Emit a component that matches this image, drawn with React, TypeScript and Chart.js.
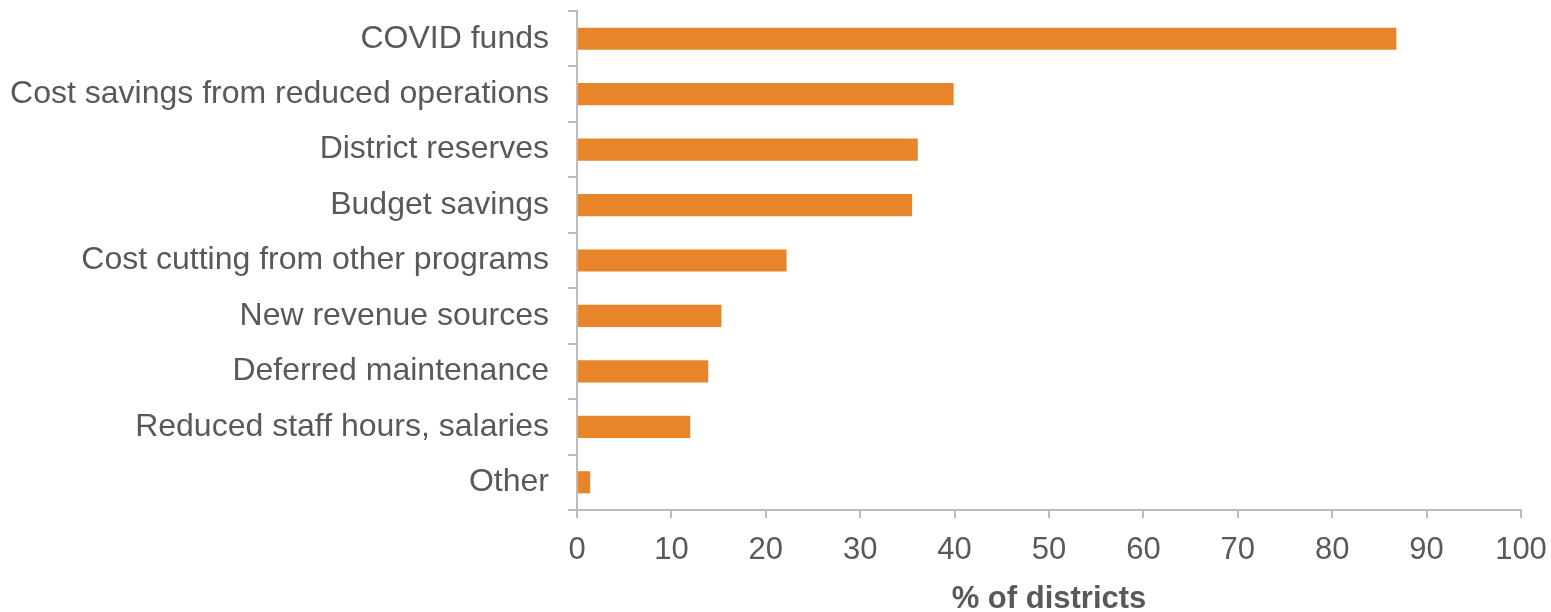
import React, { useEffect, useRef } from "react";
import { Chart, registerables } from "chart.js";

Chart.register(...registerables);

const categories = [
  "COVID funds",
  "Cost savings from reduced operations",
  "District reserves",
  "Budget savings",
  "Cost cutting from other programs",
  "New revenue sources",
  "Deferred maintenance",
  "Reduced staff hours, salaries",
  "Other",
];
const values = [86.8, 39.9, 36.1, 35.5, 22.2, 15.3, 13.9, 12.0, 1.4];
const axisTitle = "% of districts";

const ORANGE = "#E8852A";
const TEXT = "#595959";
const AXIS = "#BCBCBC";
const FONT = "'Liberation Sans', Arial, sans-serif";

export default function App() {
  const ref = useRef<HTMLCanvasElement | null>(null);
  useEffect(() => {
    if (!ref.current) return;
    const chart = new Chart(ref.current, {
      type: "bar",
      data: {
        labels: categories,
        datasets: [
          {
            data: values,
            backgroundColor: ORANGE,
            borderWidth: 0,
            categoryPercentage: 1,
            barPercentage: 0.4,
          },
        ],
      },
      options: {
        indexAxis: "y",
        animation: false,
        responsive: true,
        maintainAspectRatio: false,
        layout: { padding: { top: 11, right: 30, left: 0, bottom: 0 } },
        plugins: { legend: { display: false }, tooltip: { enabled: false } },
        scales: {
          y: {
            type: "category",
            afterFit: (s: any) => {
              s.width = 577;
              s.paddingTop = 0;
              s.paddingBottom = 0;
            },
            border: { display: true, color: AXIS, width: 2 },
            grid: {
              drawOnChartArea: false,
              drawTicks: true,
              tickLength: 9,
              offset: true,
              color: AXIS,
              lineWidth: 2,
            },
            ticks: {
              color: TEXT,
              padding: 19,
              font: { family: FONT, size: 32 },
            },
          },
          x: {
            type: "linear",
            min: 0,
            max: 100,
            afterFit: (s: any) => {
              s.height = 102;
              s.paddingLeft = 0;
              s.paddingRight = 0;
            },
            border: { display: true, color: AXIS, width: 2 },
            grid: {
              drawOnChartArea: false,
              drawTicks: true,
              tickLength: 8,
              color: AXIS,
              lineWidth: 2,
            },
            ticks: {
              stepSize: 10,
              color: TEXT,
              padding: 14,
              maxRotation: 0,
              font: { family: FONT, size: 31 },
            },
            title: {
              display: true,
              text: axisTitle,
              color: TEXT,
              font: { family: FONT, size: 31, weight: "bold" },
              padding: { top: 0, bottom: -6 },
            },
          },
        },
      },
    });
    return () => chart.destroy();
  }, []);
  return (
    <div style={{ position: "fixed", left: 0, top: 0, width: 1551, height: 612, background: "#fff" }}>
      <canvas ref={ref} />
    </div>
  );
}
